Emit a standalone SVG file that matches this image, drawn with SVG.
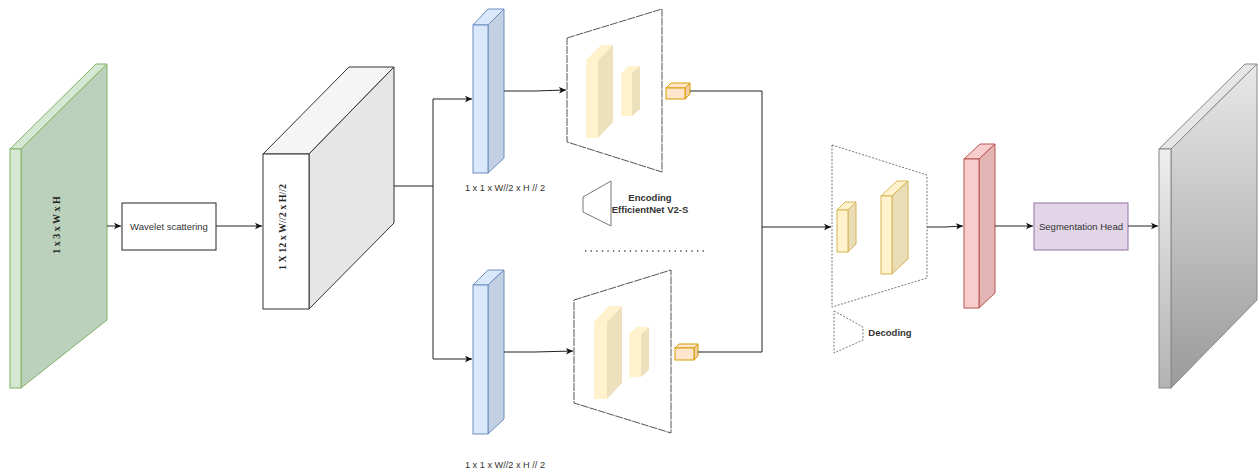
<svg xmlns="http://www.w3.org/2000/svg" width="1259" height="470" viewBox="0 0 1259 470">
<style>
.lbl{font-family:"Liberation Sans",Arial,sans-serif;font-size:9.5px;fill:#333;text-anchor:middle}
.sm{font-size:9.2px}
.bold{font-weight:bold}
.dim{font-family:"Liberation Serif","Times New Roman",serif;font-size:10px;font-weight:bold;fill:#222;text-anchor:middle}
.conn{fill:none;stroke:#222;stroke-width:1}
.trap{fill:#fff;stroke:#555;stroke-width:1;stroke-dasharray:8,1}
.dtrap{fill:#fff;stroke:#777;stroke-width:1;stroke-dasharray:2,1.5}
.blk{stroke:#d6b656;stroke-width:1}
.blkf{fill:#fff2cc}
.blks{fill:#e9dcb6}
.blkf2{fill:#fff2cc;stroke:none}
.blks2{fill:#ece0bd;stroke:none}
</style>
<defs>
<marker id="ah" markerWidth="8" markerHeight="8" refX="7" refY="4" orient="auto" markerUnits="userSpaceOnUse">
<path d="M0,0.8 L7,4 L0,7.2 L1.8,4 Z" fill="#111"/>
</marker>
<linearGradient id="gg" x1="0" y1="0" x2="0" y2="1">
<stop offset="0" stop-color="#e8e8e8"/>
<stop offset="1" stop-color="#9a9a9a"/>
</linearGradient>
<linearGradient id="ggf" x1="0" y1="0" x2="0" y2="1">
<stop offset="0" stop-color="#eeeeee"/>
<stop offset="1" stop-color="#b3b3b3"/>
</linearGradient>
</defs>

<g id="input">
<polygon points="10,149 96,64 107,64 21,149" fill="#d5e8d4" stroke="#82b366"/>
<polygon points="21,149 107,64 107,320 21,388" fill="#bcd1bb" stroke="#82b366"/>
<rect x="10" y="149" width="11" height="239" fill="#d5e8d4" stroke="#82b366"/>
<text class="dim" transform="translate(60,225) rotate(-90)">1 x 3 x W x H</text>
</g>

<g id="wavelet">
<rect x="122" y="203" width="94" height="47" fill="#fff" stroke="#222"/>
<text class="lbl" x="169" y="229.5">Wavelet scattering</text>
</g>

<g id="scatter">
<polygon points="263,154 349,67 394,67 309,154" fill="#f5f5f5" stroke="#333"/>
<polygon points="309,154 394,67 394,223 309,309" fill="#e6e6e6" stroke="#333"/>
<rect x="263" y="154" width="46" height="155" fill="#fff" stroke="#333"/>
<text class="dim" transform="translate(286,227) rotate(-90)">1 X 12 x W//2 x H//2</text>
</g>

<g id="blue-top">
<polygon points="473,25 488,9 504,9 488,25" fill="#dae8fc" stroke="#6c8ebf"/>
<polygon points="488,25 504,9 504,158 488,173" fill="#c3d0e3" stroke="#6c8ebf"/>
<rect x="473" y="25" width="15" height="148" fill="#dae8fc" stroke="#6c8ebf"/>
<text class="lbl sm" x="505" y="191">1 x 1 x W//2 x H // 2</text>
</g>

<g id="blue-bottom">
<polygon points="473,285 488,270 504,270 488,285" fill="#dae8fc" stroke="#6c8ebf"/>
<polygon points="488,285 504,270 504,419 488,434" fill="#c3d0e3" stroke="#6c8ebf"/>
<rect x="473" y="285" width="15" height="149" fill="#dae8fc" stroke="#6c8ebf"/>
<text class="lbl sm" x="505" y="468">1 x 1 x W//2 x H // 2</text>
</g>

<g id="encoder-top">
<polygon class="trap" points="567,38 662,9 662,172 567,142"/>
<polygon class="blkf2" points="586,60 601,45 613,45 598,60"/>
<polygon class="blks2" points="598,60 613,45 613,122 598,138"/>
<rect class="blkf2" x="586" y="60" width="12" height="78"/>
<polygon class="blkf2" points="621,73 629,66 640,66 632,73"/>
<polygon class="blks2" points="632,73 640,66 640,109 632,116"/>
<rect class="blkf2" x="621" y="73" width="11" height="43"/>
</g>

<g id="feat-top">
<polygon points="666,88 671,83 690,83 685,88" fill="#ffe6cc" stroke="#d79b00"/>
<polygon points="685,88 690,83 690,94 685,99" fill="#f0cfa6" stroke="#d79b00"/>
<rect x="666" y="88" width="19" height="11" fill="#ffe6cc" stroke="#d79b00"/>
</g>

<g id="encoder-bottom">
<polygon class="trap" points="574,300 671,270 671,433 574,403"/>
<polygon class="blkf2" points="594,322 609,306 622,306 607,322"/>
<polygon class="blks2" points="607,322 622,306 622,383 607,399"/>
<rect class="blkf2" x="594" y="322" width="13" height="77"/>
<polygon class="blkf2" points="629,334 637,327 649,327 641,334"/>
<polygon class="blks2" points="641,334 649,327 649,370 641,377"/>
<rect class="blkf2" x="629" y="334" width="12" height="43"/>
</g>

<g id="feat-bottom">
<polygon points="675,348 679,344 698,344 694,348" fill="#ffe6cc" stroke="#d79b00"/>
<polygon points="694,348 698,344 698,356 694,360" fill="#f0cfa6" stroke="#d79b00"/>
<rect x="675" y="348" width="19" height="12" fill="#ffe6cc" stroke="#d79b00"/>
</g>

<g id="legend-encoding">
<polygon points="583,197 611,181 611,226 583,212" fill="#fff" stroke="#777"/>
<text class="lbl bold" x="650" y="201">Encoding</text>
<text class="lbl bold" x="650" y="213">EfficientNet V2-S</text>
</g>

<g id="separator">
<line x1="585" y1="251" x2="707" y2="251" stroke="#444" stroke-width="1.3" stroke-dasharray="1.3,4.3"/>
</g>

<g id="decoder">
<polygon class="dtrap" points="832,145 927,175 927,278 832,307"/>
<polygon class="blkf blk" points="837,210 845,202 856,202 848,210"/>
<polygon class="blks blk" points="848,210 856,202 856,244 848,252"/>
<rect class="blkf blk" x="837" y="210" width="11" height="42"/>
<polygon class="blkf blk" points="881,196 897,181 908,181 892,196"/>
<polygon class="blks blk" points="892,196 908,181 908,259 892,274"/>
<rect class="blkf blk" x="881" y="196" width="11" height="78"/>
</g>

<g id="legend-decoding">
<polygon class="dtrap" points="834,311 863,327 863,340 834,353"/>
<text class="lbl bold" x="890" y="336">Decoding</text>
</g>

<g id="red">
<polygon points="964,159 980,144 995,144 979,159" fill="#f8cecc" stroke="#b85450"/>
<polygon points="979,159 995,144 995,293 979,308" fill="#e2b5b4" stroke="#b85450"/>
<rect x="964" y="159" width="15" height="149" fill="#f8cecc" stroke="#b85450"/>
</g>

<g id="seghead">
<rect x="1034" y="203" width="94" height="47" fill="#e1d5e7" stroke="#9673a6"/>
<text class="lbl" x="1081" y="229.5">Segmentation Head</text>
</g>

<g id="output">
<polygon points="1159,149 1245,64 1257,64 1171,149" fill="#e6e6e6" stroke="#888"/>
<polygon points="1171,149 1257,64 1257,300 1171,388" fill="url(#gg)" stroke="#888"/>
<rect x="1159" y="149" width="12" height="239" fill="url(#ggf)" stroke="#888"/>
</g>

<g id="connectors">
<path class="conn" d="M107,226 H121" marker-end="url(#ah)"/>
<path class="conn" d="M216,226 H262" marker-end="url(#ah)"/>
<path class="conn" d="M394,186 H433 V99 H472" marker-end="url(#ah)"/>
<path class="conn" d="M433,186 V359 H472" marker-end="url(#ah)"/>
<path class="conn" d="M504,91 H535 L566,90" marker-end="url(#ah)"/>
<path class="conn" d="M504,352 H535 L573,351" marker-end="url(#ah)"/>
<path class="conn" d="M690,91 H762 V227 H831" marker-end="url(#ah)"/>
<path class="conn" d="M698,352 H762 V227"/>
<path class="conn" d="M927,227 H945 L963,226" marker-end="url(#ah)"/>
<path class="conn" d="M995,226 H1033" marker-end="url(#ah)"/>
<path class="conn" d="M1128,226 H1158" marker-end="url(#ah)"/>
</g>
</svg>
